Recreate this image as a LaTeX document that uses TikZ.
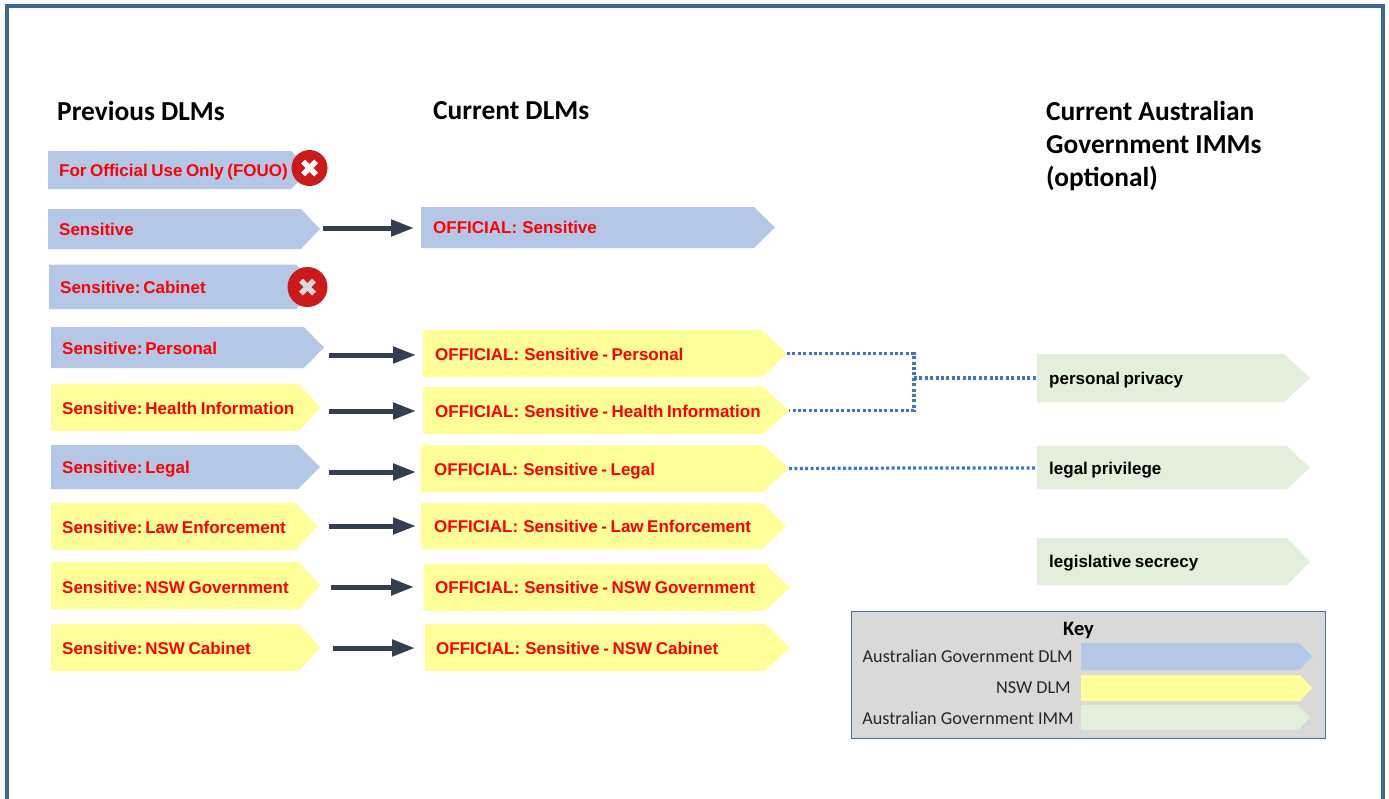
\documentclass[tikz,border=0pt]{standalone}
\usepackage{fontspec}
\setmainfont{Carlito}
\newfontfamily\labfont{Liberation Sans}[BoldFont={Liberation Sans Bold},BoldFeatures={WordSpace=0.75}]
\usetikzlibrary{arrows.meta}
\definecolor{dlmblue}{HTML}{B4C7E7}
\definecolor{nswyellow}{HTML}{FFFF99}
\definecolor{immgreen}{HTML}{E2EFDA}
\definecolor{framec}{HTML}{41668F}
\definecolor{arrowc}{HTML}{333F50}
\definecolor{dotc}{HTML}{4472C4}
\definecolor{crossred}{HTML}{CC1A1A}
\definecolor{keygrey}{HTML}{D9D9D9}
\definecolor{keyedge}{HTML}{4A6AA5}
\newcommand{\colsp}{\kern-0.7pt\ }
\newcommand{\offsp}{\hspace{5pt}}
\tikzset{
  x=1pt,y=-1pt,
  tagtext/.style={anchor=west,inner sep=0pt,text height=12pt,text depth=0pt,font=\labfont\bfseries\fontsize{17}{19}\selectfont,text=red},
  immtext/.style={tagtext,text=black},
  heading/.style={anchor=west,inner sep=0pt,align=left,font=\bfseries\fontsize{27.4}{33}\selectfont,text=black},
  keytext/.style={anchor=east,inner sep=0pt,font=\fontsize{18.2}{22}\selectfont,text=black!85},
  moved/.style={draw=arrowc,line width=5pt,-{Triangle[length=23pt,width=16pt]}},
  link/.style={draw=dotc,line width=3.2pt,dash pattern=on 3pt off 2.4pt},
  crossmark/.style={circle,fill=crossred,inner sep=0pt},
}
% name, x1, x-shoulder, x-tip, y1, y2, fill
\newcommand{\tagshape}[7]{%
  \fill[#7] (#2,#5) -- (#3,#5) -- (#4,{(#5+#6)/2}) -- (#3,#6) -- (#2,#6) -- cycle;
  \coordinate (#1-tip) at (#4,{(#5+#6)/2});
}
% name, x, y, radius, stroke colour
\newcommand{\crossbadge}[5]{%
  \node[crossmark,minimum size=#4*2pt] (#1) at (#2,#3) {};
  \draw[#5,line width=5.6pt] ([shift={(-6.5pt,-6.5pt)}]#1.center) -- ([shift={(6.5pt,6.5pt)}]#1.center);
  \draw[#5,line width=5.6pt] ([shift={(-6.5pt,6.5pt)}]#1.center) -- ([shift={(6.5pt,-6.5pt)}]#1.center);
}
\begin{document}
\begin{tikzpicture}
\useasboundingbox (0,0) rectangle (1389,798);
\fill[white] (0,0) rectangle (1389,798);
\begin{scope}
\clip (0,0) rectangle (1389,798);
\draw[framec,line width=4pt] (7,6) rectangle (1383,830);
\end{scope}

\node[heading] (h1) at (57,111) {Previous DLMs};
\node[heading] (h2) at (433,111) {Current DLMs};
\node[heading] (h3) at (1046,146.5) {Current Australian\\Government IMMs\\(optional)};

% previous
\tagshape{pfouo}{48}{291}{310}{151}{189}{dlmblue}
\tagshape{psens}{48}{301}{320}{209}{249}{dlmblue}
\tagshape{pcab}{49}{296}{318}{264.5}{309}{dlmblue}
\tagshape{ppers}{51}{304}{324}{327}{368}{dlmblue}
\tagshape{pheal}{51}{299}{320}{384}{431}{nswyellow}
\tagshape{plegal}{51}{298}{320}{445}{489}{dlmblue}
\tagshape{plaw}{51}{296}{317}{503}{550}{nswyellow}
\tagshape{pgov}{51}{299}{320}{562}{609}{nswyellow}
\tagshape{pnsw}{51}{299}{320}{624}{671}{nswyellow}
\node[tagtext] (tpfouo) at (59,170) {For Official Use Only (FOUO)};
\node[tagtext] (tpsens) at (59,229) {Sensitive};
\node[tagtext] (tpcab) at (60,287) {Sensitive:\colsp Cabinet};
\node[tagtext] (tppers) at (62,348) {Sensitive:\colsp Personal};
\node[tagtext] (tpheal) at (62,408) {Sensitive:\colsp Health Information};
\node[tagtext] (tplegal) at (62,467) {Sensitive:\colsp Legal};
\node[tagtext] (tplaw) at (62,527) {Sensitive:\colsp Law Enforcement};
\node[tagtext] (tpgov) at (62,587) {Sensitive:\colsp NSW Government};
\node[tagtext] (tpnsw) at (62,648) {Sensitive:\colsp NSW Cabinet};

\crossbadge{xfouo}{309.5}{168}{18}{white}
\crossbadge{xcab}{307.5}{287}{20}{keygrey}

% current
\tagshape{csens}{421}{754}{775}{207}{248}{dlmblue}
\tagshape{cpers}{423}{762}{787}{330}{377}{nswyellow}
\tagshape{cheal}{423}{763}{789}{387}{434}{nswyellow}
\tagshape{clegal}{421}{763}{789}{445}{492}{nswyellow}
\tagshape{claw}{421}{762}{786}{503}{549}{nswyellow}
\tagshape{cgov}{424}{765}{790}{564}{611}{nswyellow}
\tagshape{cnsw}{425}{765}{790}{624}{671}{nswyellow}
\node[tagtext] (tcsens) at (433,227) {OFFICIAL:\offsp Sensitive};
\node[tagtext] (tcpers) at (435,354) {OFFICIAL:\offsp Sensitive - Personal};
\node[tagtext] (tcheal) at (435,411) {OFFICIAL:\offsp Sensitive - Health Information};
\node[tagtext] (tclegal) at (434,469) {OFFICIAL:\offsp Sensitive - Legal};
\node[tagtext] (tclaw) at (434,526) {OFFICIAL:\offsp Sensitive - Law Enforcement};
\node[tagtext] (tcgov) at (435,587) {OFFICIAL:\offsp Sensitive - NSW Government};
\node[tagtext] (tcnsw) at (436,648) {OFFICIAL:\offsp Sensitive - NSW Cabinet};

% IMM
\tagshape{ipriv}{1037}{1284}{1310}{354}{402}{immgreen}
\tagshape{ilegal}{1037}{1287}{1310}{446}{489}{immgreen}
\tagshape{isec}{1037}{1287}{1310}{538}{585}{immgreen}
\coordinate (ipriv-west) at (1037,378);
\coordinate (ilegal-west) at (1037,468);
\node[immtext] (tipriv) at (1049,378) {personal privacy};
\node[immtext] (tilegal) at (1049,468) {legal privilege};
\node[immtext] (tisec) at (1049,561) {legislative secrecy};

% arrows between previous and current
\foreach \n/\xa/\xb/\yy in {sens/323/414/228,pers/329/416/355,heal/329/416/411,legal/329/416/472,law/329/416/526,gov/331/414/587,nsw/333/415/648}{
  \coordinate (a\n) at (\xa,\yy);
  \coordinate (b\n) at (\xb,\yy);
  \draw[moved] (a\n) -- (b\n);
}

% dotted links
\coordinate (jpers) at (914,353.5);
\coordinate (jheal) at (914,410.5);
\coordinate (jmid) at (914,378);
\coordinate (jlegal) at (914,468);
\draw[link] (cpers-tip) -- (jpers) -- (jheal) -- (cheal-tip);
\draw[link] (jmid) -- (ipriv-west);
\draw[link] (clegal-tip) -- (jlegal) -- (ilegal-west);

% key
\node[draw=keyedge,fill=keygrey,line width=1.8pt,minimum width=474pt,minimum height=127pt,inner sep=0pt] (keybox) at (1088.5,675) {};
\node[inner sep=0pt,font=\bfseries\fontsize{20.5}{22}\selectfont] (keyt) at (1078.5,630) {Key};
\tagshape{kblue}{1081}{1299}{1312}{643}{670}{dlmblue}
\tagshape{kyel}{1081}{1300}{1312}{675}{701}{nswyellow}
\tagshape{kgreen}{1081}{1298}{1310}{705}{730}{immgreen}
\node[keytext] (kt1) at (1073,656) {Australian Government DLM};
\node[keytext] (kt2) at (1071,687.5) {NSW DLM};
\node[keytext] (kt3) at (1074,718) {Australian Government IMM};
\end{tikzpicture}
\end{document}
